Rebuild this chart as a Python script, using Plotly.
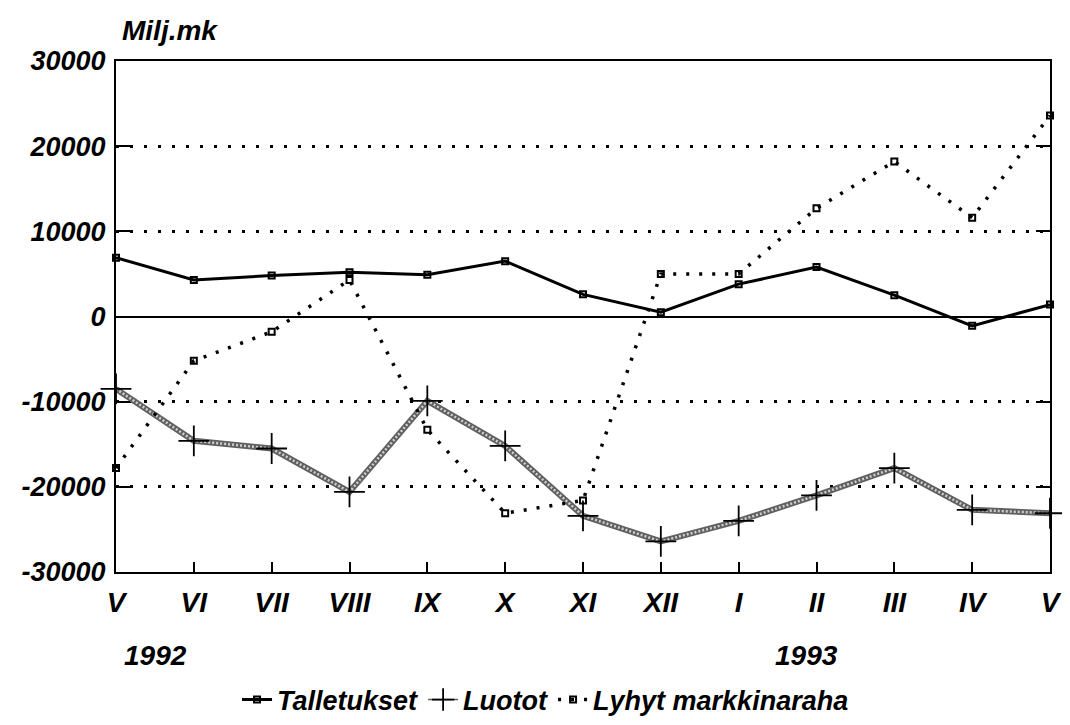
import plotly.graph_objects as go

months = ["V", "VI", "VII", "VIII", "IX", "X", "XI", "XII", "I", "II", "III", "IV", "V"]
x_pos = list(range(len(months)))

talletukset = [6900, 4300, 4800, 5200, 4900, 6500, 2600, 500, 3800, 5800, 2500, -1100, 1400]
luotot = [-8500, -14600, -15500, -20600, -9900, -15200, -23400, -26400, -24000, -21000, -17800, -22700, -23100]
lyhyt = [-17800, -5200, -1800, 4300, -13300, -23100, -21600, 5000, 5000, 12700, 18200, 11600, 23600]

y_ticks = [-30000, -20000, -10000, 0, 10000, 20000, 30000]
y_labels = ["-30000", "-20000", "-10000", "0", "10000", "20000", "30000"]

FONT = "Liberation Sans, Arial, sans-serif"

fig = go.Figure()

# Luotot: hatched grey line (dark base + light dotted overlay)
fig.add_trace(go.Scatter(
    x=x_pos, y=luotot, mode="lines",
    line=dict(color="#606060", width=6),
    showlegend=False, hoverinfo="skip", cliponaxis=False))
fig.add_trace(go.Scatter(
    x=x_pos, y=luotot, mode="lines+markers", name="Luotot",
    line=dict(color="#d0d0d0", width=2.5, dash="2px,2px"),
    marker=dict(symbol="cross-thin", size=22, line=dict(color="black", width=1.8)),
    showlegend=False, cliponaxis=False))

fig.add_trace(go.Scatter(
    x=x_pos, y=talletukset, mode="lines+markers", name="Talletukset",
    line=dict(color="black", width=3),
    marker=dict(symbol="square-open", size=6, color="black", line=dict(width=2)),
    cliponaxis=False))

# legend proxy for Luotot
fig.add_trace(go.Scatter(
    x=[None], y=[None], mode="lines+markers", name="Luotot",
    line=dict(color="#606060", width=1.5),
    marker=dict(symbol="cross-thin", size=22, line=dict(color="black", width=1.8))))

fig.add_trace(go.Scatter(
    x=x_pos, y=lyhyt, mode="lines+markers", name="Lyhyt markkinaraha",
    line=dict(color="black", width=3.5, dash="3px,10px"),
    marker=dict(symbol="square-open", size=6, color="black", line=dict(width=2)),
    cliponaxis=False))

fig.update_layout(
    width=1054, height=709,
    margin=dict(l=108, r=12, t=53, b=145, autoexpand=False),
    paper_bgcolor="white", plot_bgcolor="white",
    font=dict(family=FONT, size=24, color="black", weight="bold", style="italic"),
    showlegend=True,
    legend=dict(orientation="h", x=0.51, xanchor="center", xref="container",
                y=0.024, yanchor="middle", yref="container",
                font=dict(family=FONT, size=27, weight="bold", style="italic"),
                itemwidth=30, tracegroupgap=0, bgcolor="rgba(0,0,0,0)"),
    annotations=[
        dict(text="Milj.mk", xref="paper", yref="paper", x=0.0, y=1.0, xanchor="left",
             yanchor="middle", yshift=31, xshift=4, showarrow=False,
             font=dict(family=FONT, size=28, weight="bold", style="italic")),
        dict(text="1992", xref="paper", yref="paper", x=0.0, y=-0.163, xanchor="left",
             yanchor="middle", xshift=6, showarrow=False,
             font=dict(family=FONT, size=28, weight="bold", style="italic")),
        dict(text="1993", xref="paper", yref="paper", x=8/12, y=-0.163, xanchor="left",
             yanchor="middle", xshift=34, showarrow=False,
             font=dict(family=FONT, size=28, weight="bold", style="italic")),
    ],
)

fig.update_xaxes(
    range=[0, 12], tickvals=x_pos, ticktext=months,
    showgrid=False, zeroline=False, automargin=False,
    showline=True, linecolor="black", linewidth=2, mirror=True,
    ticks="inside", ticklen=10, tickwidth=2, tickcolor="black",
    ticklabelstandoff=4, ticklabeloverflow="allow",
    tickfont=dict(family=FONT, size=28, weight="bold", style="italic"),
)
fig.update_yaxes(
    range=[-30000, 30000], tickvals=y_ticks, ticktext=y_labels,
    showgrid=True, gridcolor="black", gridwidth=2.5, griddash="3px,11px",
    zeroline=True, zerolinecolor="black", zerolinewidth=2, automargin=False,
    showline=True, linecolor="black", linewidth=2, mirror="ticks",
    ticks="inside", ticklen=14, tickwidth=2, tickcolor="black",
    ticklabelstandoff=3, ticklabeloverflow="allow",
    tickfont=dict(family=FONT, size=27, weight="bold", style="italic"),
)

fig.write_html("out.html")
